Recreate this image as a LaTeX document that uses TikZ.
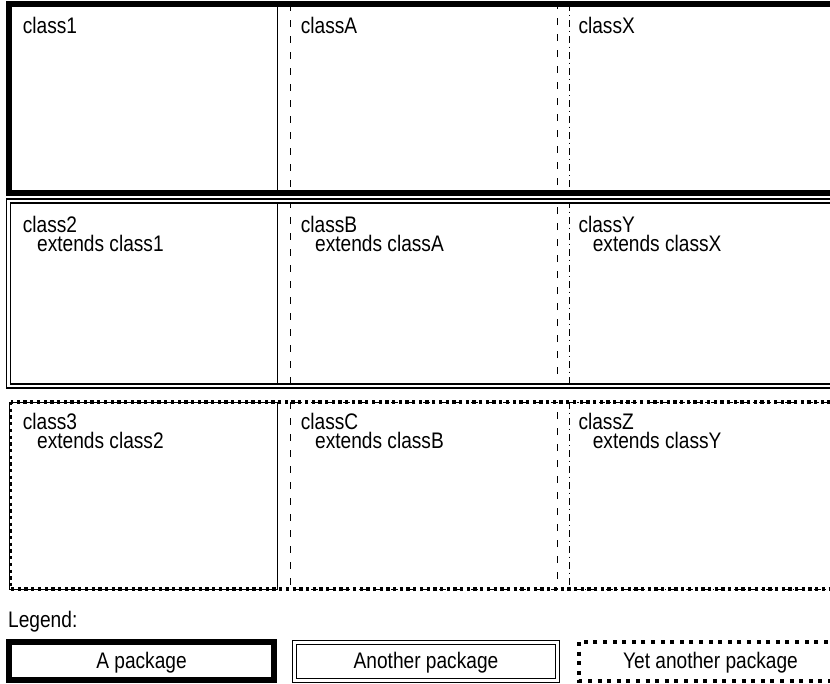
\documentclass[tikz,border=0pt]{standalone}
\usepackage{fontspec}
\setmainfont{Liberation Sans}[FakeStretch=0.85]
\newcommand\twolines[2]{\vtop{\baselineskip=19pt\lineskiplimit=-100pt\hbox{#1}\hbox{\hskip14.3pt #2}}}
\begin{document}
\begin{tikzpicture}[x=1pt,y=-1pt,
  lbl/.style={anchor=base west, inner sep=0pt, font=\fontsize{22.5}{22}\selectfont},
  legtxt/.style={anchor=base, inner sep=0pt, font=\fontsize{22.5}{22}\selectfont},
  cellone/.style={draw, line width=1pt},
  celltwo/.style={draw, line width=1pt, dash pattern=on 7pt off 9pt},
  cellthree/.style={draw, line width=1pt, dash pattern=on 6.5pt off 4pt on 1.5pt off 4pt},
  pkgthick/.style={draw, line width=6pt},
  pkgdouble/.style={draw, line width=1.5pt, double, double distance=2.5pt},
  pkgdot/.style={draw, line width=3.3pt, dash pattern=on 3.3pt off 3.4pt},
  legdot/.style={draw, line width=4pt, dash pattern=on 4pt off 5.6pt}]
\useasboundingbox (0,0) rectangle (830,683);
\clip (0,0) rectangle (830,683);
% class cells
\foreach \t/\b in {4/193, 201/386, 402/589} {
  \draw[cellone] (9,\t) rectangle (277,\b);
  \draw[celltwo] (290,\t) rectangle (557,\b);
  \draw[cellthree] (569,\t) rectangle (840,\b);
}
% packages
\draw[pkgthick] (9,4) rectangle (850,193);
\draw[pkgdouble] (8.5,201) rectangle (850,386);
\draw[pkgdot] (10.5,402) rectangle (850,589);
% texts
\node[lbl] (c1) at (22.7,33) {class1};
\node[lbl] (cA) at (300.7,33) {classA};
\node[lbl] (cX) at (578.3,33) {classX};
\node[lbl] (c2) at (22.7,232) {\twolines{class2}{extends class1}};
\node[lbl] (cB) at (300.7,232) {\twolines{classB}{extends classA}};
\node[lbl] (cY) at (578.3,232) {\twolines{classY}{extends classX}};
\node[lbl] (c3) at (22.7,429) {\twolines{class3}{extends class2}};
\node[lbl] (cC) at (300.7,429) {\twolines{classC}{extends classB}};
\node[lbl] (cZ) at (578.3,429) {\twolines{classZ}{extends classY}};
% legend
\node[lbl] (leg) at (8,627) {Legend:};
\draw[pkgthick] (9,642.3) rectangle (274,679.7);
\draw[pkgdouble] (294.7,642.6) rectangle (557.3,680.5);
\draw[legdot] (579,642) rectangle (842,681);
\node[legtxt] (l1) at (141.5,668.3) {A package};
\node[legtxt] (l2) at (426,668.3) {Another package};
\node[legtxt] (l3) at (710.5,668.3) {Yet another package};
\end{tikzpicture}
\end{document}
